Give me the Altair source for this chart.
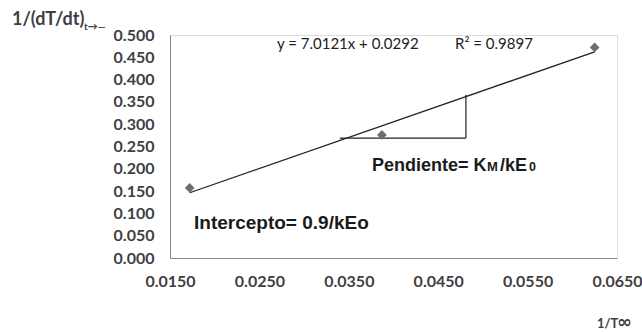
import altair as alt
import pandas as pd

# data points
x_vals = [0.0172, 0.0387, 0.0625]
y_vals = [0.157, 0.276, 0.472]

# triangle construction (slope illustration)
tri_h_x = [0.0340, 0.0481]
tri_h_y = [0.269, 0.269]
tri_v_x = [0.0481, 0.0481]
tri_v_y = [0.269, 0.366]

x_ticks = [0.015, 0.025, 0.035, 0.045, 0.055, 0.065]
y_ticks = [0.0, 0.05, 0.1, 0.15, 0.2, 0.25, 0.3, 0.35, 0.4, 0.45, 0.5]

eq_text = "y = 7.0121x + 0.0292"
r2_text = "R² = 0.9897"
intercept_text = "Intercepto= 0.9/kEo"
y_title = "1/(dT/dt)"
y_title_sub = "t→—"
x_title = "1/T"
x_title_sym = "∞"

pts = pd.DataFrame({"x": x_vals, "y": y_vals})
tri = pd.DataFrame({
    "x": [tri_h_x[0], tri_v_x[0]],
    "x2": [tri_h_x[1], tri_v_x[1]],
    "y": [tri_h_y[0], tri_v_y[0]],
    "y2": [tri_h_y[1], tri_v_y[1]],
})

W, H = 447, 223
lab_color = "#404040"

xscale = alt.Scale(domain=[0.015, 0.065], nice=False, zero=False)
yscale = alt.Scale(domain=[0, 0.5], nice=False)

xaxis = alt.Axis(values=x_ticks, format=".4f", title=None, grid=False, ticks=False,
                 domainColor="#868686", labelFont="Lato", labelFontWeight="bold",
                 labelFontSize=16, labelColor=lab_color, labelPadding=15,
                 labelFlush=False, labelOverlap=False)
yaxis = alt.Axis(values=y_ticks, format=".3f", title=None, grid=False, ticks=False,
                 domainColor="#868686", labelFont="Lato", labelFontWeight="bold",
                 labelFontSize=16, labelColor=lab_color, labelPadding=16,
                 labelFlush=False, labelOverlap=False)

X = alt.X("x:Q", scale=xscale, axis=xaxis)
Y = alt.Y("y:Q", scale=yscale, axis=yaxis)

base = alt.Chart(pts)

trend = base.transform_regression("x", "y").mark_line(color="#222222", strokeWidth=1.3).encode(
    x=X, y=Y,
)

points = base.mark_point(shape="diamond", filled=True, size=95, color="#6e6e6e", opacity=1).encode(
    x=X, y=Y,
)

triangle = alt.Chart(tri).mark_rule(color="#222222", strokeWidth=1.2).encode(
    x=X, x2="x2:Q", y=Y, y2="y2:Q",
)

def txt(text, x, y, size, weight="normal", font="Lato", color="#1a1a1a"):
    return alt.Chart(pd.DataFrame({"t": [text]})).mark_text(
        align="left", baseline="alphabetic", fontSize=size, fontWeight=weight,
        font=font, color=color,
    ).encode(text="t:N", x=alt.value(x), y=alt.value(y))

annots = [
    txt(eq_text, 107, 14, 15, color="#222222"),
    txt(r2_text, 285, 14, 15, color="#222222"),
    txt(intercept_text, 24, 194, 19, "bold", "Liberation Sans"),
    txt("Pendiente= K", 202, 136, 18, "bold", "Liberation Sans"),
    txt("M", 317, 136, 13, "bold", "Liberation Sans"),
    txt("/kE", 330, 136, 18, "bold", "Liberation Sans"),
    txt("0", 359, 136, 12.5, "bold", "Liberation Sans"),
    txt(y_title, -158, -10, 18, "bold", "Lato", lab_color),
    txt(y_title_sub, -86, -5, 10, "bold", "Lato", lab_color),
    txt(x_title, 427, 293, 13, "bold", "Lato", lab_color),
    txt(x_title_sym, 447, 293, 18, "bold", "DejaVu Sans", lab_color),
]

chart = alt.layer(trend, triangle, points, *annots).properties(
    width=W, height=H,
    padding={"left": 170, "top": 35, "right": 25, "bottom": 74},
    autosize=alt.AutoSizeParams(type="none"),
).configure_view(stroke=None).configure(background="white").configure_axis(
    labelOverlap=False, labelFlush=False
)

chart.save("out.html", embed_options={"renderer": "svg", "actions": False})
